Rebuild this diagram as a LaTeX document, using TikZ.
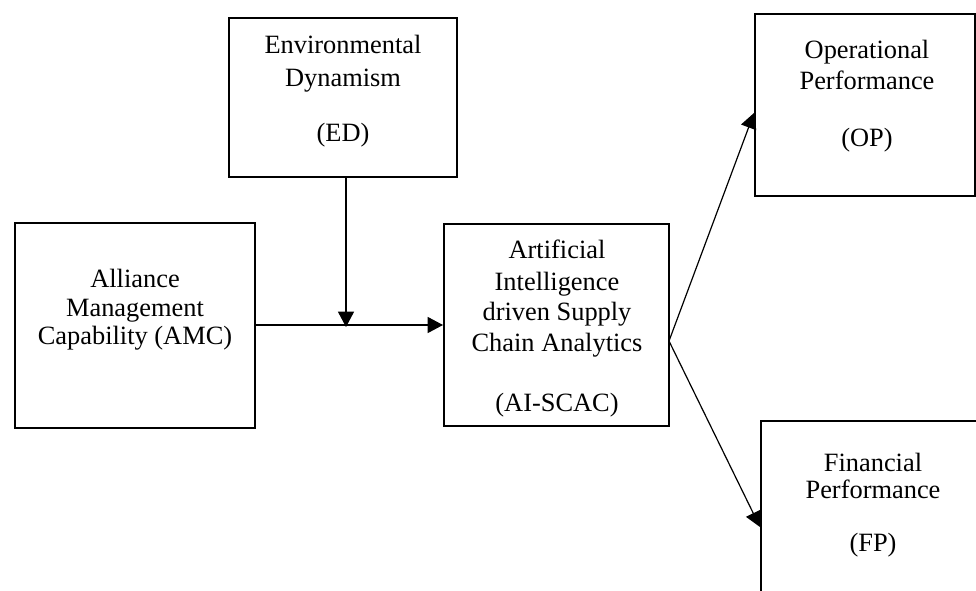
\documentclass[tikz,border=0pt]{standalone}
\usepackage{fontspec}
\setmainfont{Liberation Serif}
\usetikzlibrary{arrows.meta}
\begin{document}
\begin{tikzpicture}[x=0.75pt,y=-0.75pt,
  box/.style={draw=black,line width=1.5pt,inner sep=0pt,anchor=center},
  txt/.style={font=\fontsize{19.8}{23}\selectfont,align=center,inner sep=0pt,anchor=center},
  conn/.style={draw=black,line width=0.9pt,-{Triangle[length=11.5pt,width=12pt]}}]
\useasboundingbox (0,0) rectangle (976,590);
% boxes
\node[box,minimum width=171pt,minimum height=119.25pt] (ed) at (343,97.5) {};
\node[box,minimum width=180pt,minimum height=153.75pt] (amc) at (135,325.5) {};
\node[box,minimum width=168.75pt,minimum height=151.5pt] (ai) at (556.5,325) {};
\node[box,minimum width=165pt,minimum height=136.5pt] (op) at (865,105) {};
\begin{scope}
\clip (0,0) rectangle (976,590);
\node[box,minimum width=164.25pt,minimum height=141.75pt] (fp) at (870.5,515.5) {};
\end{scope}
% texts
\node[txt] (edt) at (343,91) {Environmental\\[1.75pt]Dynamism\\[18.25pt](ED)};
\node[txt] (amct) at (135,310) {Alliance\\[-1.5pt]Management\\[-1.5pt]Capability (AMC)};
\node[txt] (ait) at (557,328.5) {Artificial\\[1pt]Intelligence\\driven Supply\\Chain Analytics\\[22pt](AI-SCAC)};
\node[txt] (opt) at (867,96) {Operational\\Performance\\[19.75pt](OP)};
\node[txt] (fpt) at (873,505) {Financial\\[-2.75pt]Performance\\[16.75pt](FP)};
% connectors
\coordinate (mod) at (346,327);
\coordinate (aiout) at (669,341);
\draw[conn] (ed.south -| mod) -- (mod);
\draw[conn] (amc.east |- ai.west) -- (ai.west);
\draw[conn] (aiout) -- (op.west |- 0,113);
\draw[conn] (aiout) -- (fp.west |- 0,527);
\end{tikzpicture}
\end{document}
